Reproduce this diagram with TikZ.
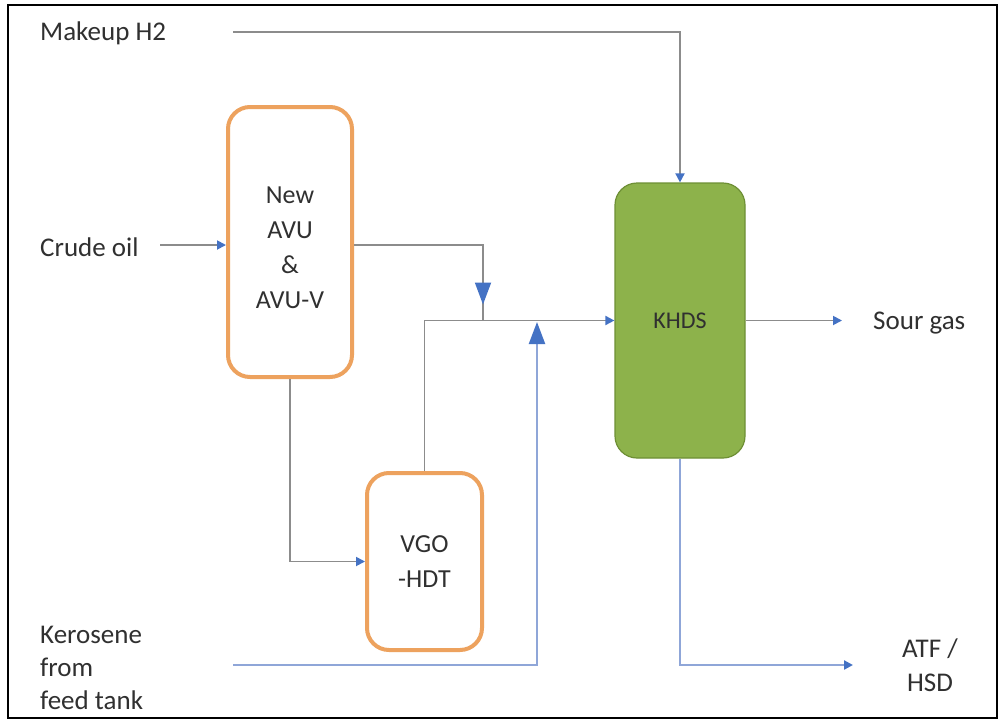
\documentclass[tikz,border=0pt]{standalone}
\usepackage{fontspec}
\setmainfont{Carlito}
\usetikzlibrary{arrows.meta,calc}
\definecolor{linegray}{HTML}{8C8C8C}
\definecolor{lineblue}{HTML}{8FA6D8}
\definecolor{arrowblue}{HTML}{4472C4}
\definecolor{boxorange}{HTML}{EDA25E}
\definecolor{khdsgreen}{HTML}{8DB24B}
\definecolor{khdsdark}{HTML}{6E8F35}
\definecolor{txt}{HTML}{303030}
\begin{document}
\begin{tikzpicture}[x=1pt,y=-1pt,
  lbl/.style={text=txt,font=\fontsize{27}{30}\selectfont,inner sep=0pt},
  procbox/.style={draw=boxorange,line width=4pt,rounded corners=22pt,fill=white,
     text=txt,font=\fontsize{26}{35}\selectfont,align=center,inner sep=0pt},
  reactor/.style={draw=khdsdark,line width=1.2pt,rounded corners=22pt,fill=khdsgreen,
     text=txt,font=\fontsize{24}{24}\selectfont,inner sep=0pt},
  pipe/.style={draw=linegray,line width=1.8pt},
  bluepipe/.style={draw=lineblue,line width=2.2pt},
  tipS/.style={-{Triangle[length=9pt,width=9pt,color=arrowblue]}},
  tipL/.style={-{Triangle[length=22pt,width=16pt,color=arrowblue]}}
]
\useasboundingbox (0,0) rectangle (1001,723);
\fill[white] (0,0) rectangle (1001,723);
\draw[black,line width=2.5pt] (8,5) rectangle (997,718);

% process units
\node[procbox,minimum width=124pt,minimum height=270pt] (avu) at (290,242) {};
\node[text=txt,font=\fontsize{26}{35}\selectfont,align=center,inner sep=0pt] (avutext) at (290,248) {New\\AVU\\\&\\AVU-V};
\node[procbox,minimum width=115pt,minimum height=177pt] (vgo) at (424.5,561.5) {VGO\\-HDT};
\node[reactor,minimum width=130pt,minimum height=275pt] (khds) at (680,320.5) {KHDS};

% labels
\node[lbl,anchor=west] (makeup) at (40,33) {Makeup H2};
\node[lbl,anchor=west] (crude) at (40,247) {Crude oil};
\node[lbl,anchor=west,align=left,font=\fontsize{27}{33}\selectfont] (kero) at (40,668) {Kerosene\\from\\feed tank};
\node[lbl,anchor=west] (sour) at (873,323) {Sour gas};
\node[lbl,align=center,font=\fontsize{27}{34}\selectfont] (atf) at (930,665) {ATF /\\HSD};

% connector end points
\coordinate (mkstart) at (233,32);
\coordinate (crstart) at (160,245);
\coordinate (kerstart) at (233,665);
\coordinate (jdown) at (483,320.5);
\coordinate (jup) at (537,322);
\coordinate (sourend) at (842,320.5);
\coordinate (atfend) at (853,665);

% connectors
\draw[pipe,tipS] (mkstart) -| (khds.north);
\draw[pipe,tipS] (crstart) -- (avu.west |- crstart);
\draw[pipe] (avu.east |- crstart) -| (jdown);
\draw[pipe,tipL] ($(jdown)+(0,-38)$) -- ($(jdown)+(0,-16)$);
\draw[pipe,tipS] (vgo.north) |- (khds.west);
\draw[bluepipe,tipL] (kerstart) -| (jup);
\draw[pipe,tipS] (avu.south) |- (vgo.west);
\draw[pipe,tipS] (khds.east) -- (sourend);
\draw[bluepipe,tipS] (khds.south) |- (atfend);
\end{tikzpicture}
\end{document}
